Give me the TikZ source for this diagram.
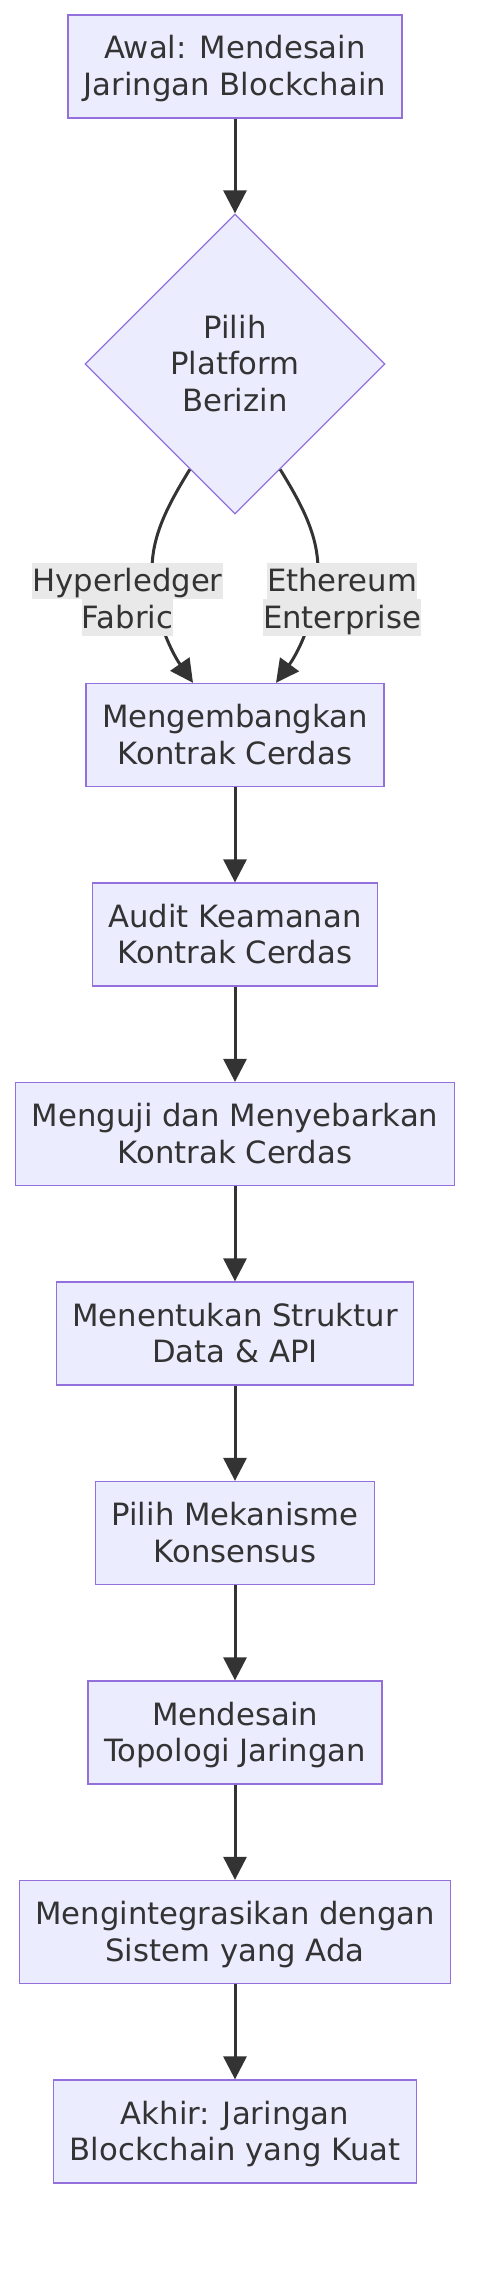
\documentclass[tikz,border=0pt]{standalone}
\usepackage{fontspec}
\setmainfont{DejaVu Sans}
\usetikzlibrary{shapes.geometric,arrows.meta,calc}
\definecolor{boxfill}{HTML}{ECECFF}
\definecolor{boxline}{HTML}{9370DB}
\definecolor{txt}{HTML}{333333}
\definecolor{edge}{HTML}{333333}
\definecolor{lblbg}{HTML}{E9E9E9}
\newcommand{\vs}{\rule[-7.5pt]{0pt}{36.5pt}}
\newcommand{\elbl}[1]{{\setlength{\fboxsep}{0pt}\colorbox{lblbg}{\vs #1}}}
\begin{document}
\begin{tikzpicture}[x=1pt,y=-1pt,font=\fontsize{30.7pt}{36.5pt}\selectfont,
  stepbox/.style={draw=boxline,fill=boxfill,line width=1.3pt,text=txt,align=center,inner xsep=16pt,inner ysep=0pt,minimum height=103pt},
  choice/.style={diamond,draw=boxline,fill=boxfill,line width=1.3pt,text=txt,align=center,inner sep=0pt,minimum width=300pt,minimum height=300pt},
  flow/.style={draw=edge,line width=3pt,-{Triangle[length=23pt,width=23pt]}},
  edgelbl/.style={align=center,inner sep=0pt,text=txt}]
\useasboundingbox (0,0) rectangle (486,2272);
\node[stepbox] (start) at (235,66.5) {\vs Awal: Mendesain\\\vs Jaringan Blockchain};
\node[choice] (plat) at (235,364) {\vs Pilih\\\vs Platform\\\vs Berizin};
\node[stepbox] (dev) at (235,735) {\vs Mengembangkan\\\vs Kontrak Cerdas};
\node[stepbox] (audit) at (235,934.5) {\vs Audit Keamanan\\\vs Kontrak Cerdas};
\node[stepbox] (test) at (235,1134) {\vs Menguji dan Menyebarkan\\\vs Kontrak Cerdas};
\node[stepbox] (data) at (235,1333.5) {\vs Menentukan Struktur\\\vs Data \& API};
\node[stepbox] (cons) at (235,1533) {\vs Pilih Mekanisme\\\vs Konsensus};
\node[stepbox] (topo) at (235,1732.5) {\vs Mendesain\\\vs Topologi Jaringan};
\node[stepbox] (integ) at (235,1932) {\vs Mengintegrasikan dengan\\\vs Sistem yang Ada};
\node[stepbox] (finish) at (235,2131.5) {\vs Akhir: Jaringan\\\vs Blockchain yang Kuat};
\draw[flow] (start) -- (plat);
\draw[flow] ($(plat.south)!0.3!(plat.west)$) .. controls (168,505) and (152,535) .. (152,570) .. controls (152,610) and (170,650) .. ([xshift=-42pt]dev.north);
\draw[flow] ($(plat.south)!0.3!(plat.east)$) .. controls (302,505) and (318,535) .. (318,570) .. controls (318,610) and (300,650) .. ([xshift=41pt]dev.north);
\node[edgelbl] (hlf) at (127.5,599) {\elbl{Hyperledger}\\\elbl{Fabric}};
\node[edgelbl] (eth) at (342,599) {\elbl{Ethereum}\\\elbl{Enterprise}};
\draw[flow] (dev) -- (audit);
\draw[flow] (audit) -- (test);
\draw[flow] (test) -- (data);
\draw[flow] (data) -- (cons);
\draw[flow] (cons) -- (topo);
\draw[flow] (topo) -- (integ);
\draw[flow] (integ) -- (finish);
\end{tikzpicture}
\end{document}
